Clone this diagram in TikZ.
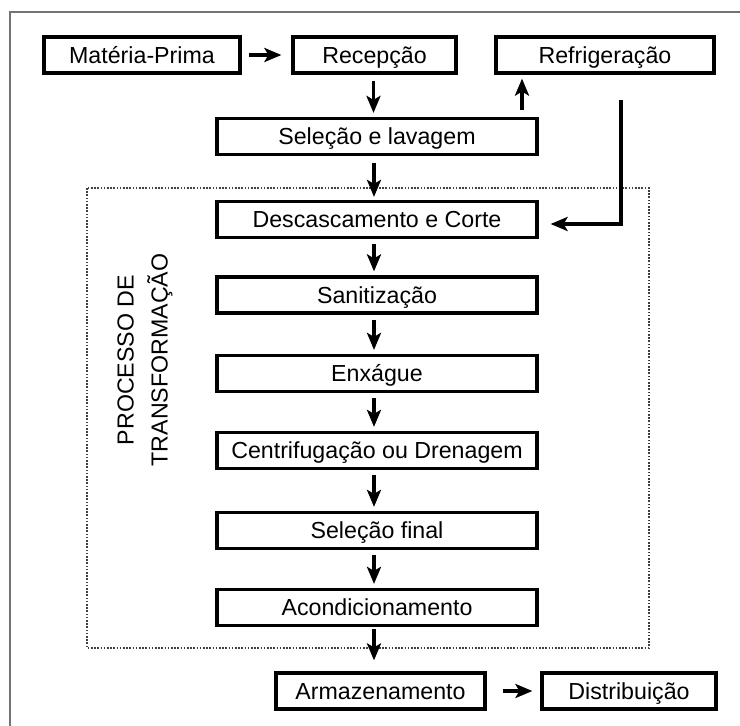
\documentclass[tikz,border=0pt]{standalone}
\usepackage{fontspec}
\setmainfont{Liberation Sans}
\usetikzlibrary{arrows.meta,calc}
\begin{document}
\begin{tikzpicture}[x=1pt,y=-1pt,
  font=\fontsize{23.2}{34}\selectfont,
  stepbox/.style={draw=black,line width=3.2pt,inner sep=0pt,minimum height=36pt,
     text height=16.6pt,text depth=0pt},
  tip/.style={-{Stealth[length=17pt,width=14pt,inset=4pt]}},
  arr/.style={line width=3.4pt,tip},
  frameline/.style={draw=black!55,line width=1.8pt},
  dottedbox/.style={draw=black!75,line width=1.8pt,dash pattern=on 1.6pt off 1.6pt}]
\useasboundingbox (0,0) rectangle (740,726);
\path[frameline] (10,726) -- (10,12) -- (740,12);
\path[dottedbox] (87,188) rectangle (649,648);

\node[stepbox,minimum width=196pt] (mp) at (142,55) {Matéria-Prima};
\node[stepbox,minimum width=163pt] (rec) at (374.5,55) {Recepção};
\node[stepbox,minimum width=218pt] (ref) at (605,55) {Refrigeração};
\node[stepbox,minimum width=320pt] (sel) at (377,136.5) {Seleção e lavagem};
\node[stepbox,minimum width=320pt] (desc) at (377,219.5) {Descascamento e Corte};
\node[stepbox,minimum width=320pt] (san) at (377,295) {Sanitização};
\node[stepbox,minimum width=320pt] (enx) at (377,373.5) {Enxágue};
\node[stepbox,minimum width=320pt] (cen) at (377,450.5) {Centrifugação ou Drenagem};
\node[stepbox,minimum width=320pt] (self) at (377,530.5) {Seleção final};
\node[stepbox,minimum width=320pt] (acon) at (377,607.5) {Acondicionamento};
\node[stepbox,minimum width=209pt] (arm) at (380.5,691) {Armazenamento};
\node[stepbox,minimum width=174pt] (dist) at (629,691) {Distribuição};

\node[rotate=90,align=center,inner sep=0pt] (lbl) at (145,360) {PROCESSO DE\\TRANSFORMAÇÃO};

\draw[arr,shorten <=7pt,shorten >=10pt] (mp.east) -- (rec.west);
\draw[arr,shorten <=16pt,shorten >=8pt] (arm.east) -- (dist.west);

\draw[arr,shorten <=6pt,shorten >=4pt] ([xshift=-1pt]rec.south) -- ([xshift=-1pt]rec.south |- sel.north);
\draw[arr,shorten <=7pt,shorten >=3pt] ([xshift=-3pt]sel.south) -- ([xshift=-3pt]sel.south |- desc.north);
\draw[arr,shorten <=5pt,shorten >=4pt] ([xshift=-3pt]desc.south) -- ([xshift=-3pt]desc.south |- san.north);
\draw[arr,shorten <=5pt,shorten >=4pt] ([xshift=-3pt]san.south) -- ([xshift=-3pt]san.south |- enx.north);
\draw[arr,shorten <=5pt,shorten >=4pt] ([xshift=-3pt]enx.south) -- ([xshift=-3pt]enx.south |- cen.north);
\draw[arr,shorten <=5pt,shorten >=4pt] ([xshift=-3pt]cen.south) -- ([xshift=-3pt]cen.south |- self.north);
\draw[arr,shorten <=5pt,shorten >=4pt] ([xshift=-3pt]self.south) -- ([xshift=-3pt]self.south |- acon.north);
\draw[arr,shorten <=2pt,shorten >=11pt] ([xshift=-3pt]acon.south) -- ([xshift=-3pt]acon.south |- arm.north);

\draw[arr,shorten <=7pt,shorten >=4pt] ([xshift=145pt]sel.north) -- ([xshift=145pt]sel.north |- ref.south);

\coordinate (rstart) at ([xshift=16pt,yshift=-25pt]ref.south);
\draw[arr,shorten >=12pt] (rstart) |- ([yshift=-4.5pt]desc.east);
\end{tikzpicture}
\end{document}
